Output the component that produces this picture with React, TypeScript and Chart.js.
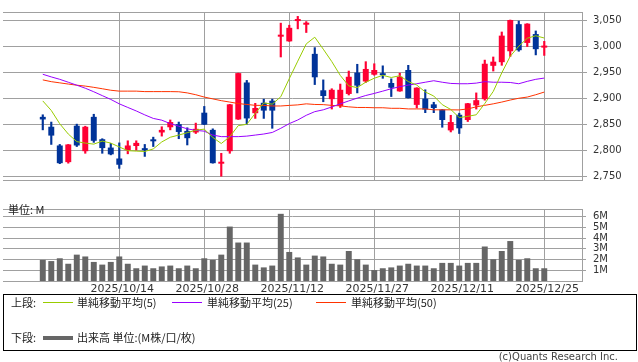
import React, { useEffect, useRef } from "react";
import { Chart, registerables } from "chart.js";
Chart.register(...registerables);

const dates = [
  "2025/09/30", "2025/10/01", "2025/10/02", "2025/10/03", "2025/10/06", "2025/10/07", "2025/10/08", "2025/10/09", "2025/10/10", "2025/10/14",
  "2025/10/15", "2025/10/16", "2025/10/17", "2025/10/20", "2025/10/21", "2025/10/22", "2025/10/23", "2025/10/24", "2025/10/27", "2025/10/28",
  "2025/10/29", "2025/10/30", "2025/10/31", "2025/11/04", "2025/11/05", "2025/11/06", "2025/11/07", "2025/11/10", "2025/11/11", "2025/11/12",
  "2025/11/13", "2025/11/14", "2025/11/17", "2025/11/18", "2025/11/19", "2025/11/20", "2025/11/21", "2025/11/25", "2025/11/26", "2025/11/27",
  "2025/11/28", "2025/12/01", "2025/12/02", "2025/12/03", "2025/12/04", "2025/12/05", "2025/12/08", "2025/12/09", "2025/12/10", "2025/12/11",
  "2025/12/12", "2025/12/15", "2025/12/16", "2025/12/17", "2025/12/18", "2025/12/19", "2025/12/22", "2025/12/23", "2025/12/24", "2025/12/25",
];

const xTickLabels = ["2025/10/14", "2025/10/28", "2025/11/12", "2025/11/27", "2025/12/11", "2025/12/25"];
const priceTicks = [2750, 2800, 2850, 2900, 2950, 3000, 3050];
const volumeTicks = [1, 2, 3, 4, 5, 6];

const open = [
  2864, 2845, 2809, 2777, 2847, 2798, 2864, 2821, 2805, 2784,
  2800, 2808, 2802, 2820, 2834, 2844, 2850, 2837, 2834, 2872,
  2839, 2774, 2798, 2859, 2930, 2871, 2891, 2895, 3018, 3009,
  3048, 3041, 2985, 2915, 2898, 2885, 2908, 2949, 2932, 2945,
  2946, 2929, 2913, 2954, 2887, 2899, 2888, 2878, 2838, 2868,
  2858, 2886, 2898, 2962, 2969, 2990, 3042, 3006, 3023, 2997,
];
const close = [
  2859, 2828, 2775, 2811, 2809, 2845, 2818, 2804, 2792, 2772,
  2809, 2814, 2800, 2817, 2839, 2854, 2835, 2823, 2841, 2849,
  2775, 2776, 2888, 2948, 2861, 2881, 2876, 2876, 3019, 3035,
  3049, 3042, 2940, 2904, 2916, 2916, 2941, 2924, 2956, 2954,
  2944, 2920, 2941, 2900, 2920, 2878, 2881, 2858, 2854, 2842,
  2890, 2896, 2966, 2970, 3020, 3050, 2992, 3043, 2994, 2998,
];
const high = [
  2868, 2854, 2811, 2811, 2850, 2846, 2869, 2822, 2813, 2814,
  2818, 2818, 2811, 2825, 2845, 2858, 2854, 2843, 2852, 2884,
  2841, 2794, 2888, 2948, 2934, 2890, 2898, 2898, 3044, 3040,
  3057, 3047, 2997, 2935, 2918, 2927, 2952, 2965, 2970, 2966,
  2962, 2937, 2948, 2963, 2920, 2916, 2892, 2878, 2867, 2871,
  2890, 2910, 2973, 2979, 3027, 3050, 3048, 3043, 3029, 3009,
];
const low = [
  2839, 2811, 2774, 2775, 2807, 2794, 2815, 2794, 2791, 2765,
  2793, 2800, 2788, 2807, 2827, 2839, 2822, 2810, 2832, 2849,
  2775, 2750, 2794, 2859, 2850, 2861, 2861, 2842, 2979, 3009,
  3033, 3026, 2926, 2893, 2879, 2882, 2906, 2910, 2930, 2944,
  2938, 2903, 2913, 2900, 2881, 2872, 2872, 2844, 2835, 2832,
  2855, 2879, 2896, 2952, 2963, 2980, 2990, 2999, 2983, 2982,
];
const ma5 = [
  2894.6, 2876.3, 2850.7, 2831.0, 2816.4, 2813.6, 2811.6, 2817.4, 2813.6, 2806.2,
  2799.0, 2798.2, 2797.4, 2802.4, 2815.8, 2824.8, 2829.0, 2833.6, 2838.4, 2840.4,
  2824.6, 2812.8, 2825.8, 2847.2, 2849.6, 2870.8, 2890.8, 2888.4, 2902.6, 2937.4,
  2971.0, 3004.2, 3017.0, 2994.0, 2970.2, 2943.6, 2923.4, 2920.2, 2930.6, 2938.2,
  2943.8, 2939.6, 2943.0, 2931.8, 2925.0, 2911.8, 2904.0, 2887.4, 2878.2, 2862.6,
  2865.0, 2868.0, 2889.6, 2912.8, 2948.4, 2980.4, 2999.6, 3015.0, 3019.8, 3015.4,
];
const ma25 = [
  2945.8, 2940.7, 2936.1, 2930.5, 2924.8, 2919.0, 2912.2, 2904.8, 2897.5, 2889.0,
  2882.1, 2875.3, 2867.8, 2861.0, 2857.6, 2851.0, 2846.0, 2841.0, 2838.0, 2836.5,
  2829.0, 2826.0, 2826.0, 2826.0, 2827.0, 2829.0, 2831.0, 2834.0, 2842.0, 2851.0,
  2858.0, 2867.0, 2874.0, 2877.5, 2883.0, 2889.0, 2894.6, 2900.0, 2905.0, 2909.0,
  2913.4, 2918.0, 2922.0, 2925.0, 2927.6, 2930.5, 2933.4, 2930.5, 2928.2, 2927.6,
  2927.6, 2928.8, 2931.6, 2930.5, 2930.5, 2930.0, 2927.6, 2932.2, 2936.1, 2938.5,
];
const ma50 = [
  2935.0, 2931.6, 2929.3, 2927.0, 2924.8, 2923.1, 2920.7, 2918.0, 2915.1, 2913.4,
  2913.4, 2913.4, 2912.5, 2912.5, 2912.5, 2912.5, 2912.2, 2910.0, 2906.5, 2902.0,
  2898.5, 2895.1, 2892.4, 2889.5, 2887.8, 2886.1, 2886.0, 2884.9, 2884.9, 2886.0,
  2887.0, 2889.0, 2887.8, 2887.5, 2886.0, 2885.0, 2883.2, 2882.0, 2882.0, 2881.5,
  2881.5, 2880.4, 2880.4, 2879.2, 2879.2, 2879.2, 2877.5, 2877.5, 2877.5, 2877.3,
  2879.2, 2883.2, 2886.1, 2889.0, 2892.4, 2896.3, 2899.7, 2902.0, 2906.5, 2911.6,
];
const volume = [
  1.97, 1.86, 2.12, 1.61, 2.46, 2.29, 1.78, 1.53, 1.78, 2.29,
  1.61, 1.19, 1.44, 1.19, 1.36, 1.44, 1.19, 1.44, 1.19, 2.12,
  1.97, 2.46, 5.08, 3.59, 3.59, 1.53, 1.27, 1.44, 6.27, 2.71,
  2.20, 1.53, 2.37, 2.29, 1.61, 1.53, 2.80, 2.03, 1.53, 1.02,
  1.19, 1.27, 1.44, 1.61, 1.44, 1.44, 1.19, 1.69, 1.69, 1.44,
  1.69, 1.69, 3.22, 2.03, 2.80, 3.73, 1.97, 2.12, 1.19, 1.19,
];

const UP = "#ff0033";
const DOWN = "#003399";
const GRID = "#a0a0a0";
const X_MIN = -4.68;
const X_MAX = 63.44;
const FONT = "'DejaVu Sans', sans-serif";
const JP = "'Noto Sans CJK JP', sans-serif";

const tickIdx = xTickLabels.map((d) => dates.indexOf(d));
const idx = dates.map((_, i) => i);
const candleColors = idx.map((i) => (close[i] >= open[i] ? UP : DOWN));

function xScale(showLabels: boolean, h: number) {
  return {
    type: "linear",
    position: "bottom",
    min: X_MIN,
    max: X_MAX,
    offset: false,
    grid: { color: GRID, lineWidth: 1, drawTicks: false, offset: false },
    border: { display: true, color: GRID },
    ticks: {
      display: showLabels,
      autoSkip: false,
      maxRotation: 0,
      minRotation: 0,
      padding: 2,
      labelOffset: 3,
      color: "#333",
      font: { family: FONT, size: 11 },
      callback: (v: number) => dates[v] ?? "",
    },
    afterBuildTicks: (s: any) => {
      s.ticks = tickIdx.map((v) => ({ value: v }));
    },
    afterFit: (s: any) => {
      s.height = h;
    },
  };
}

const topBorder = {
  type: "linear",
  position: "top",
  min: 0,
  max: 1,
  offset: false,
  grid: { display: false, drawTicks: false },
  ticks: { display: false },
  border: { display: true, color: GRID },
  afterFit: (s: any) => {
    s.height = 0;
  },
};

export default function App() {
  const topRef = useRef<HTMLCanvasElement>(null);
  const volRef = useRef<HTMLCanvasElement>(null);

  useEffect(() => {
    const c1 = new Chart(topRef.current as HTMLCanvasElement, {
      type: "bar",
      data: {
        datasets: [
          {
            type: "line",
            label: "単純移動平均(5)",
            data: idx.map((i) => ({ x: i, y: ma5[i] })),
            borderColor: "#99cc00",
            borderWidth: 1,
            pointRadius: 0,
            order: 0,
          },
          {
            type: "line",
            label: "単純移動平均(25)",
            data: idx.map((i) => ({ x: i, y: ma25[i] })),
            borderColor: "#9900ff",
            borderWidth: 1,
            pointRadius: 0,
            order: 0,
          },
          {
            type: "line",
            label: "単純移動平均(50)",
            data: idx.map((i) => ({ x: i, y: ma50[i] })),
            borderColor: "#ff3300",
            borderWidth: 1,
            pointRadius: 0,
            order: 0,
          },
          {
            type: "bar",
            label: "wick",
            data: idx.map((i) => ({ x: i, y: [low[i], high[i]] })),
            backgroundColor: candleColors,
            barThickness: 1.5,
            grouped: false,
            order: 2,
          },
          {
            type: "bar",
            label: "body",
            data: idx.map((i) => ({ x: i, y: [open[i], close[i]] })),
            backgroundColor: candleColors,
            barPercentage: 0.7,
            categoryPercentage: 1,
            minBarLength: 2,
            grouped: false,
            order: 1,
          },
        ],
      } as any,
      options: {
        responsive: false,
        animation: false,
        devicePixelRatio: 1,
        layout: { padding: { left: 3, top: 1, right: 0, bottom: 0 } },
        plugins: { legend: { display: false }, tooltip: { enabled: false } },
        scales: {
          x: xScale(false, 2),
          xTop: topBorder,
          y: {
            position: "right",
            min: 2742.7,
            max: 3065.4,
            grid: { color: GRID, lineWidth: 1, drawTicks: true, tickLength: 5, tickColor: GRID },
            border: { display: true, color: GRID },
            ticks: {
              autoSkip: false,
              padding: 6,
              color: "#333",
              font: { family: FONT, size: 10 },
              callback: (v: number) => v.toLocaleString("en-US"),
            },
            afterBuildTicks: (s: any) => {
              s.ticks = priceTicks.map((v) => ({ value: v }));
            },
            afterFit: (s: any) => {
              s.width = 56;
            },
          },
        } as any,
      },
    });

    const c2 = new Chart(volRef.current as HTMLCanvasElement, {
      type: "bar",
      data: {
        datasets: [
          {
            label: "出来高",
            data: idx.map((i) => ({ x: i, y: volume[i] })),
            backgroundColor: "#666666",
            barPercentage: 0.7,
            categoryPercentage: 1,
          },
        ],
      } as any,
      options: {
        responsive: false,
        animation: false,
        devicePixelRatio: 1,
        layout: { padding: { left: 3, top: 5, right: 0, bottom: 0 } },
        plugins: { legend: { display: false }, tooltip: { enabled: false } },
        scales: {
          x: xScale(true, 15),
          xTop: topBorder,
          y: {
            position: "right",
            min: 0,
            max: 6.72,
            grid: { color: GRID, lineWidth: 1, drawTicks: true, tickLength: 4, tickColor: GRID },
            border: { display: true, color: GRID },
            ticks: {
              autoSkip: false,
              padding: 7,
              color: "#333",
              font: { family: FONT, size: 10 },
              callback: (v: number) => v + "M",
            },
            afterBuildTicks: (s: any) => {
              s.ticks = volumeTicks.map((v) => ({ value: v }));
            },
            afterFit: (s: any) => {
              s.width = 56;
            },
          },
        } as any,
      },
    });

    return () => {
      c1.destroy();
      c2.destroy();
    };
  }, []);

  const txt: React.CSSProperties = {
    position: "absolute",
    fontFamily: JP,
    fontSize: 11,
    lineHeight: "14px",
    color: "#222",
    whiteSpace: "nowrap",
  };
  const line = (left: number, top: number, color: string, h: number): React.CSSProperties => ({
    position: "absolute",
    left,
    top,
    width: 30,
    height: h,
    background: color,
  });

  return (
    <div
      style={{
        position: "absolute",
        left: 0,
        top: 0,
        width: 638,
        height: 362,
        background: "#fff",
        overflow: "hidden",
      }}
    >
      <canvas ref={topRef} width={638} height={192} style={{ position: "absolute", left: 0, top: 0 }} />
      <canvas ref={volRef} width={638} height={100} style={{ position: "absolute", left: 0, top: 196 }} />
      <div style={{ ...txt, left: 8, top: 202 }}>単位: M</div>
      <div
        style={{
          position: "absolute",
          left: 3,
          top: 294,
          width: 632,
          height: 55,
          border: "1px solid #000",
        }}
      />
      <div style={{ ...txt, left: 11, top: 295 }}>上段:</div>
      <div style={line(43, 302, "#99cc00", 1)} />
      <div style={{ ...txt, left: 77, top: 295 }}>単純移動平均(5)</div>
      <div style={line(172, 302, "#9900ff", 1)} />
      <div style={{ ...txt, left: 207, top: 295 }}>単純移動平均(25)</div>
      <div style={line(316, 302, "#ff3300", 1)} />
      <div style={{ ...txt, left: 351, top: 295 }}>単純移動平均(50)</div>
      <div style={{ ...txt, left: 11, top: 330 }}>下段:</div>
      <div style={line(43, 336, "#666666", 4)} />
      <div style={{ ...txt, left: 77, top: 330 }}>出来高 単位:(M株/口/枚)</div>
      <div style={{ ...txt, right: 20, top: 350, fontFamily: FONT, fontSize: 10, color: "#444" }}>
        (c)Quants Research Inc.
      </div>
    </div>
  );
}
